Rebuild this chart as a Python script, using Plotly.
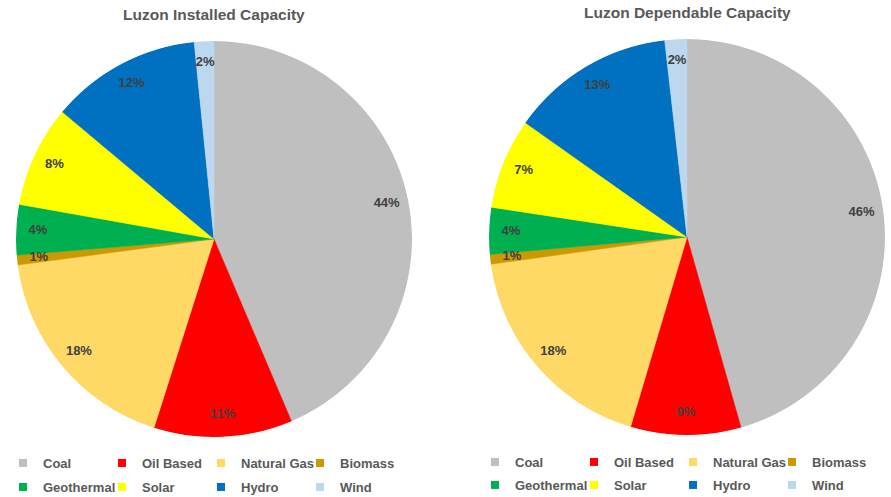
import plotly.graph_objects as go

categories = ["Coal", "Oil Based", "Natural Gas", "Biomass", "Geothermal", "Solar", "Hydro", "Wind"]
installed_pct = [43.6, 11.3, 18.0, 0.8, 4.1, 8.3, 12.3, 1.6]
dependable_pct = [45.6, 9.0, 18.2, 0.8, 3.8, 7.4, 13.4, 1.8]
colors = ["#BFBFBF", "#FF0000", "#FFD966", "#CC9900", "#00B050", "#FFFF00", "#0070C0", "#BDD7EE"]
titles = ["Luzon Installed Capacity", "Luzon Dependable Capacity"]
series = [installed_pct, dependable_pct]

W, H = 891, 497
FONT = "Liberation Sans, Arial, sans-serif"

# pie geometry (center x, center y, radius) in pixels
geoms = [(214, 239, 198), (687, 237, 198)]
title_y = [15, 13]
legend_x = [3, 475]
legend_rows_y = [(463, 487), (462, 485)]


def px(x):
    return x / W


def py(y):
    return (H - y) / H


def dom(cx, cy, r):
    return dict(x=[px(cx - r), px(cx + r)], y=[py(cy + r), py(cy - r)])


fig = go.Figure()
layout_extra = {}
annotations = []

for i, (vals, title) in enumerate(zip(series, titles)):
    cx, cy, r = geoms[i]
    d = dom(cx, cy, r)
    pname = "polar" if i == 0 else "polar2"
    total = sum(vals)
    cum = 0
    thetas, widths, texts = [], [], []
    for v in vals:
        thetas.append((cum + v / 2) / total * 360)
        widths.append(v / total * 360)
        texts.append(f"{round(v / total * 100)}%")
        cum += v
    # pie slices as full-radius polar wedges
    fig.add_trace(go.Barpolar(
        r=[1] * len(vals), theta=thetas, width=widths,
        marker=dict(color=colors, line=dict(color=colors, width=0.5)),
        subplot=pname, showlegend=False, hovertext=categories, hoverinfo="text",
    ))
    # percentage labels
    fig.add_trace(go.Scatterpolar(
        r=[0.89] * len(vals), theta=thetas, text=texts, mode="text",
        textfont=dict(family=FONT, size=13, color="#404040", weight="bold"),
        subplot=pname, showlegend=False, hoverinfo="skip",
    ))
    layout_extra[pname] = dict(
        domain=d, bgcolor="rgba(0,0,0,0)",
        radialaxis=dict(visible=False, range=[0, 1]),
        angularaxis=dict(visible=False, rotation=90, direction="clockwise"),
    )
    annotations.append(dict(
        text=title, x=px(cx), y=py(title_y[i]), xref="paper", yref="paper",
        xanchor="center", yanchor="middle", showarrow=False,
        font=dict(family=FONT, size=15.5, color="#595959", weight="bold"),
    ))
    # legends: two rows of four
    for row in range(2):
        lname = f"legend{'' if (i * 2 + row) == 0 else i * 2 + row + 1}"
        for k in range(4):
            idx = row * 4 + k
            fig.add_trace(go.Scatter(
                x=[None], y=[None], mode="markers", name=categories[idx],
                marker=dict(symbol="square", size=8, color=colors[idx]),
                legend=lname, showlegend=True, hoverinfo="skip",
            ))
        layout_extra[lname] = dict(
            orientation="h", x=px(legend_x[i]), xanchor="left",
            y=py(legend_rows_y[i][row]), yanchor="middle",
            font=dict(family=FONT, size=13, color="#595959", weight="bold"),
            bgcolor="rgba(0,0,0,0)", itemwidth=30, entrywidth=54, entrywidthmode="pixels",
            borderwidth=0, tracegroupgap=0,
        )

fig.update_layout(
    width=W, height=H, autosize=False,
    margin=dict(l=0, r=0, t=0, b=0, autoexpand=False),
    paper_bgcolor="white", plot_bgcolor="white",
    xaxis=dict(visible=False), yaxis=dict(visible=False),
    annotations=annotations,
    **layout_extra,
)

# remove the default page margin so the 891x497 figure fills the window exactly
fig.write_html(
    "out.html",
    config={"displayModeBar": False},
    post_script="document.body.style.margin='0';document.body.style.overflow='hidden';",
)
